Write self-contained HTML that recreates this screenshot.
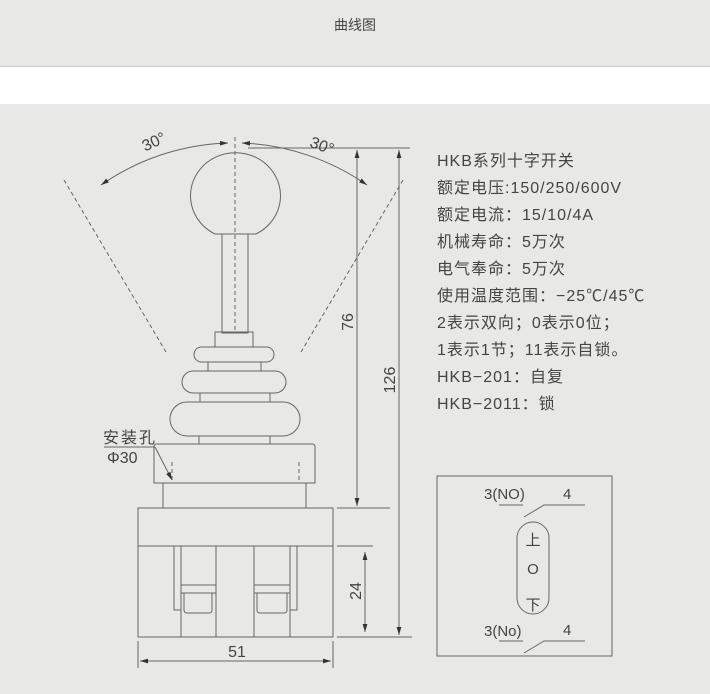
<!DOCTYPE html>
<html><head><meta charset="utf-8"><style>
body{margin:0;width:710px;height:694px;background:#e8e8e6;overflow:hidden;font-family:"Liberation Sans","Noto Sans CJK SC",sans-serif}
</style></head><body>
<svg width="710" height="694" xmlns="http://www.w3.org/2000/svg" style="position:absolute;left:0;top:0">
<defs><marker id="a" viewBox="0 0 10 10" refX="10" refY="5" markerWidth="8" markerHeight="8" orient="auto-start-reverse"><path d="M0,2 L10,5 L0,8 z" fill="#333"/></marker></defs>
<rect x="0" y="0" width="710" height="66" fill="#e8e8e6"/>
<line x1="0" y1="66.5" x2="710" y2="66.5" stroke="#c8c8c8"/>
<rect x="0" y="67" width="710" height="37" fill="#fff"/>
<text x="355" y="30" font-size="14" text-anchor="middle" fill="#444">曲线图</text>
<g fill="none" stroke="#666" stroke-width="1">
<path d="M101,185 A235,235 0 0 1 228,143" marker-start="url(#a)" marker-end="url(#a)"/>
<path d="M242,143 A235,235 0 0 1 367,185" marker-start="url(#a)" marker-end="url(#a)"/>
<line x1="64" y1="180" x2="166" y2="352" stroke-dasharray="4,3"/>
<line x1="403" y1="180" x2="301" y2="352" stroke-dasharray="4,3"/>
<line x1="235" y1="137" x2="235" y2="333" stroke-dasharray="4,3"/>
<line x1="248" y1="148" x2="410" y2="148"/>
<path d="M215,234 A45,43 0 1 1 256,234 Z"/>
<rect x="222" y="234" width="26" height="99"/>
<rect x="215" y="332" width="38" height="15"/>
<rect x="194" y="347" width="80" height="15" rx="7.5"/>
<rect x="208" y="362" width="53" height="9"/>
<rect x="182" y="371" width="104" height="22" rx="11"/>
<rect x="200" y="393" width="70" height="9"/>
<rect x="170" y="402" width="130" height="34" rx="17"/>
<rect x="199" y="436" width="71" height="8"/>
<path d="M154,483 L154,447 Q154,444 157,444 L312,444 Q315,444 315,447 L315,483 Z"/>
<line x1="172" y1="462" x2="172" y2="483" stroke-dasharray="4,3"/>
<line x1="299" y1="462" x2="299" y2="483" stroke-dasharray="4,3"/>
<line x1="163" y1="483" x2="163" y2="508"/><line x1="306" y1="483" x2="306" y2="508"/>
<rect x="138" y="508" width="195" height="38"/>
<rect x="138" y="546" width="195" height="91"/>
<path d="M174,546 L174,610 L181,610"/><line x1="181" y1="546" x2="181" y2="637"/><line x1="216" y1="546" x2="216" y2="637"/>
<rect x="181" y="585" width="35" height="8"/><path d="M184,593 L184,610 Q184,613 187,613 L209,613 Q212,613 212,610 L212,593"/>
<path d="M297,546 L297,610 L290,610"/><line x1="290" y1="546" x2="290" y2="637"/><line x1="254" y1="546" x2="254" y2="637"/>
<rect x="254" y="585" width="36" height="8"/><path d="M257,593 L257,610 Q257,613 260,613 L284,613 Q287,613 287,610 L287,593"/>
<line x1="337" y1="508" x2="390" y2="508"/><line x1="337" y1="546" x2="373" y2="546"/><line x1="337" y1="637" x2="412" y2="637"/>
<line x1="357" y1="150" x2="357" y2="506" marker-start="url(#a)" marker-end="url(#a)"/>
<line x1="399" y1="150" x2="399" y2="635" marker-start="url(#a)" marker-end="url(#a)"/>
<line x1="365" y1="552" x2="365" y2="632" marker-start="url(#a)" marker-end="url(#a)"/>
<line x1="138" y1="641" x2="138" y2="668"/><line x1="333" y1="641" x2="333" y2="668"/>
<line x1="140" y1="661" x2="331" y2="661" marker-start="url(#a)" marker-end="url(#a)"/>
<line x1="104" y1="447" x2="155" y2="447"/>
<line x1="155" y1="447" x2="172" y2="480" marker-end="url(#a)"/>
<rect x="437" y="476" width="175" height="180"/>
<line x1="499" y1="505" x2="523" y2="505"/><path d="M524,517 L544,505 L585,505"/>
<rect x="517" y="522" width="32" height="92" rx="16"/>
<line x1="499" y1="641" x2="523" y2="641"/><path d="M524,653 L544,641 L585,641"/>
</g>
<g fill="#444" font-size="16">
<text x="154" y="147" transform="rotate(-25 154 142)" text-anchor="middle">30°</text>
<text x="322" y="151" transform="rotate(20 322 146)" text-anchor="middle">30°</text>
<text transform="translate(353,322) rotate(-90)" text-anchor="middle">76</text>
<text transform="translate(395,380) rotate(-90)" text-anchor="middle">126</text>
<text transform="translate(361,591) rotate(-90)" text-anchor="middle">24</text>
<text x="237" y="657" text-anchor="middle">51</text>
<text x="103" y="443" letter-spacing="2">安装孔</text>
<text x="107" y="463">Φ30</text>
</g>
<g fill="#444" font-size="16" letter-spacing="1">
<text x="437" y="166">HKB系列十字开关</text>
<text x="437" y="193">额定电压:150/250/600V</text>
<text x="437" y="220">额定电流：15/10/4A</text>
<text x="437" y="247">机械寿命：5万次</text>
<text x="437" y="274">电气奉命：5万次</text>
<text x="437" y="301">使用温度范围：−25℃/45℃</text>
<text x="437" y="328">2表示双向；0表示0位；</text>
<text x="437" y="355">1表示1节；11表示自锁。</text>
<text x="437" y="382">HKB−201：自复</text>
<text x="437" y="409">HKB−2011：锁</text>
</g>
<g fill="#444" font-size="15">
<text x="484" y="499">3(NO)</text><text x="563" y="499">4</text>
<text x="484" y="636">3(No)</text><text x="563" y="635">4</text>
<text x="533" y="545" text-anchor="middle">上</text>
<text x="533" y="574" text-anchor="middle">O</text>
<text x="533" y="610" text-anchor="middle">下</text>
</g>
</svg>
</body></html>
